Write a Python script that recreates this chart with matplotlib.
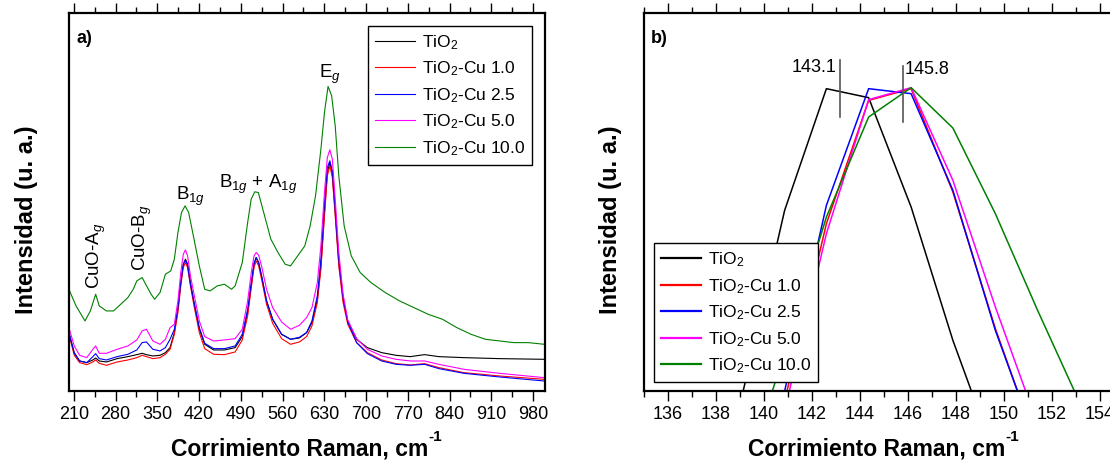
import matplotlib
matplotlib.use("Agg")
import matplotlib.pyplot as plt
from matplotlib.ticker import FixedLocator, MultipleLocator

plt.rcParams['font.family'] = ['Liberation Sans', 'DejaVu Sans']
plt.rcParams['mathtext.fontset'] = 'custom'
plt.rcParams['mathtext.rm'] = 'Liberation Sans'
plt.rcParams['mathtext.it'] = 'Liberation Sans:italic'
plt.rcParams['mathtext.bf'] = 'Liberation Sans:bold'

# ---------------- data: panel a (Raman spectra, arbitrary intensity) -------------
shift_a = [201.8, 210.8, 219.8, 231.8, 242.0, 246.7, 252.7, 264.7, 282.7, 300.7,
           315.7, 324.6, 331.8, 342.6, 354.6, 363.6, 371.4, 378.6, 384.6, 389.4,
           393.6, 397.2, 400.8, 405.6, 411.6, 420.5, 429.5, 444.5, 462.5, 480.5,
           492.5, 501.5, 508.0, 512.2, 515.8, 520.0, 525.4, 533.2, 543.4, 558.4,
           573.4, 588.3, 600.3, 609.3, 618.3, 624.3, 630.3, 635.1, 639.3, 643.5,
           648.3, 654.3, 661.5, 669.3, 684.2, 702.2, 726.2, 750.2, 774.1, 798.1,
           822.1, 864.0, 923.9, 998.9]
tio2 = [175, 115, 90, 85, 93, 99, 90, 87, 97, 103, 109, 113, 109, 105, 107, 115, 130, 175,
        245, 325, 380, 395, 380, 325, 265, 185, 140, 123, 123, 130, 163, 235, 325, 380,
        400, 385, 340, 270, 215, 170, 155, 159, 175, 205, 275, 375, 535, 655, 685, 650,
        535, 385, 275, 210, 155, 130, 115, 107, 103, 109, 103, 100, 97, 95]
cu10 = [170, 107, 85, 79, 87, 93, 83, 77, 87, 93, 100, 107, 103, 97, 100, 110, 125, 170,
        235, 315, 370, 385, 370, 315, 255, 175, 127, 110, 109, 117, 153, 225, 315, 370,
        390, 375, 330, 260, 203, 157, 140, 147, 163, 195, 265, 365, 525, 645, 675, 640,
        525, 375, 265, 200, 145, 115, 93, 82, 78, 82, 70, 55, 45, 35]
cu25 = [175, 113, 90, 85, 103, 112, 97, 93, 103, 110, 123, 145, 147, 125, 120, 130, 155, 185,
        250, 325, 380, 392, 377, 320, 265, 190, 143, 127, 127, 135, 170, 245, 330, 383,
        400, 383, 340, 270, 215, 170, 155, 161, 175, 210, 285, 395, 565, 670, 690, 660,
        545, 395, 280, 207, 145, 112, 90, 80, 77, 80, 67, 53, 42, 30]
cu50 = [190, 135, 107, 100, 125, 135, 113, 113, 125, 135, 153, 180, 185, 150, 140, 155, 190, 200,
        270, 355, 410, 423, 405, 345, 290, 210, 163, 150, 153, 157, 185, 270, 360, 405,
        415, 407, 370, 305, 250, 207, 185, 197, 220, 250, 325, 435, 595, 700, 723, 695,
        575, 415, 290, 213, 157, 125, 105, 95, 90, 90, 80, 65, 53, 40]
shift_a_cu100 = [201.8, 213.8, 228.8, 237.8, 246.7, 252.7, 264.7, 276.7, 288.7, 300.7,
                 309.7, 315.7, 324.6, 330.6, 339.6, 345.6, 354.6, 363.6, 372.6, 378.6,
                 384.6, 390.6, 396.6, 402.6, 411.6, 420.5, 429.5, 438.5, 450.5, 462.5,
                 474.5, 480.5, 492.5, 501.5, 507.4, 513.4, 519.4, 528.4, 540.4, 552.4,
                 564.4, 573.4, 585.4, 597.3, 606.3, 615.3, 624.3, 630.3, 636.3, 642.3,
                 648.3, 654.3, 663.3, 675.2, 690.2, 708.2, 732.2, 756.2, 780.1, 804.1,
                 828.1, 852.1, 876.0, 900.0, 923.9, 947.9, 971.9, 998.9]
cu100 = [305, 255, 210, 240, 290, 255, 240, 240, 260, 280, 305, 330, 340, 320, 290, 275, 295,
         350, 360, 395, 475, 535, 555, 535, 455, 375, 305, 300, 315, 320, 305, 315, 385, 505,
         575, 597, 595, 535, 455, 415, 380, 375, 405, 435, 495, 585, 725, 835, 913, 885, 795,
         645, 495, 405, 355, 325, 295, 270, 250, 230, 215, 190, 170, 155, 150, 145, 145, 140]

# ---------------- data: panel b (zoom of the 144 cm-1 band) ---------------------
shift_b_tio2 = [139.10, 140.86, 142.60, 144.36, 146.13, 147.87, 149.64]
peak_tio2 = [-10, 542, 907, 880, 552, 152, -197]
shift_b = [140.86, 142.60, 144.36, 146.13, 147.87, 149.64, 151.40]
peak_cu10 = [-30, 502, 872, 907, 597, 187, -170]
peak_cu25 = [0, 557, 907, 892, 602, 182, -166]
peak_cu50 = [-60, 472, 874, 910, 632, 252, -100]
shift_b_cu100 = [139.10, 140.86, 142.60, 144.36, 146.13, 147.87, 149.64, 151.40, 153.16]
peak_cu100 = [-280, 115, 522, 822, 910, 789, 532, 242, -36]

marker_pos = [143.16, 145.80]
marker_lo = [822, 807]
marker_hi = [992, 974]
marker_txt = ['143.1', '145.8']

labels = ['TiO$_2$', 'TiO$_2$-Cu 1.0', 'TiO$_2$-Cu 2.5', 'TiO$_2$-Cu 5.0', 'TiO$_2$-Cu 10.0']
colors = ['#000000', '#FF0000', '#0000FF', '#FF00FF', '#008000']

ticks_a = list(range(210, 1000, 70))
ticks_b = list(range(136, 156, 2))

# ---------------- figure --------------------------------------------------------
W, H = 1110, 461
fig = plt.figure(figsize=(W / 100, H / 100), dpi=100)
top_px, bot_px = 13, 391
axa = fig.add_axes([69 / W, (H - bot_px) / H, (545 - 69) / W, (bot_px - top_px) / H])
axb = fig.add_axes([644 / W, (H - bot_px) / H, (1124 - 644) / W, (bot_px - top_px) / H])

series_a = [(shift_a, tio2), (shift_a, cu10), (shift_a, cu25), (shift_a, cu50),
            (shift_a_cu100, cu100)]
for (xs, ys), lab, c in zip(series_a, labels, colors):
    axa.plot(xs, ys, color=c, lw=0.8, label=lab)

series_b = [(shift_b_tio2, peak_tio2), (shift_b, peak_cu10), (shift_b, peak_cu25),
            (shift_b, peak_cu50), (shift_b_cu100, peak_cu100)]
for (xs, ys), lab, c in zip(series_b, labels, colors):
    axb.plot(xs, ys, color=c, lw=1.1, label=lab)

for xp, lo, hi in zip(marker_pos, marker_lo, marker_hi):
    axb.plot([xp, xp], [lo, hi], color='#555555', lw=1.2)
axb.text(marker_pos[0] - 0.12, 972, marker_txt[0], ha='right', va='center', fontsize=13)
axb.text(marker_pos[1] + 0.08, 965, marker_txt[1], ha='left', va='center', fontsize=13)

# annotations panel a
ann_fs = 13.5
axa.text(248, 305, 'CuO-A$_{\\mathit{g}}$', rotation=90, ha='center', va='bottom', fontsize=ann_fs)
axa.text(325.5, 360, 'CuO-B$_{\\mathit{g}}$', rotation=90, ha='center', va='bottom', fontsize=ann_fs)
axa.text(381.6, 572, 'B$_{\\mathit{1g}}$', ha='left', va='baseline', fontsize=ann_fs)
axa.text(453.5, 609, 'B$_{\\mathit{1g}}$ + A$_{\\mathit{1g}}$', ha='left', va='baseline', fontsize=ann_fs)
axa.text(621.3, 937, 'E$_{\\mathit{g}}$', ha='left', va='baseline', fontsize=ann_fs)

for ax, lab in ((axa, 'a)'), (axb, 'b)')):
    ax.text(0.015, 0.955, lab, transform=ax.transAxes, ha='left', va='top',
            fontsize=13, fontweight='bold')

axa.set_xlim(202, 1000)
axa.set_ylim(0, 1133)
axb.set_xlim(135, 155)
axb.set_ylim(0, 1134)

axa.xaxis.set_major_locator(FixedLocator(ticks_a))
axa.xaxis.set_minor_locator(MultipleLocator(35))
axb.xaxis.set_major_locator(FixedLocator(ticks_b))
axb.xaxis.set_minor_locator(MultipleLocator(1))

for ax in (axa, axb):
    ax.set_yticks([])
    ax.tick_params(axis='x', which='both', direction='out', top=True, labeltop=False,
                   labelsize=13, width=1.0, pad=4)
    ax.tick_params(axis='x', which='major', length=7)
    ax.tick_params(axis='x', which='minor', length=4)
    for s in ax.spines.values():
        s.set_linewidth(1.6)
    xl = ax.set_xlabel('Corrimiento Raman, cm', fontsize=16.5, fontweight='bold', labelpad=10)
    xl.set_x(0.485)
    ax.annotate('-1', xy=(1.0, 0.72), xycoords=xl, ha='left', va='bottom',
                fontsize=11, fontweight='bold', annotation_clip=False)

fig.text(27 / W, 1 - 220 / H, 'Intensidad (u. a.)', rotation=90, ha='center', va='center',
         fontsize=17, fontweight='bold')
fig.text(611 / W, 1 - 220 / H, 'Intensidad (u. a.)', rotation=90, ha='center', va='center',
         fontsize=17, fontweight='bold')

lega = axa.legend(loc='upper right', fontsize=12.5, fancybox=False, edgecolor='black',
                  framealpha=1, handlelength=2.3, borderaxespad=0.75, labelspacing=0.45,
                  handletextpad=0.4, borderpad=0.4)
lega.get_frame().set_linewidth(1.0)
legb = axb.legend(loc='lower left', bbox_to_anchor=(10 / 480, 9 / 378), borderaxespad=0,
                  fontsize=12.5, fancybox=False, edgecolor='black', framealpha=1,
                  handlelength=2.3, labelspacing=0.45, handletextpad=0.4, borderpad=0.4)
legb.get_frame().set_linewidth(1.0)
for h in legb.get_lines():
    h.set_linewidth(1.6)

fig.savefig('out.png', dpi=100)
